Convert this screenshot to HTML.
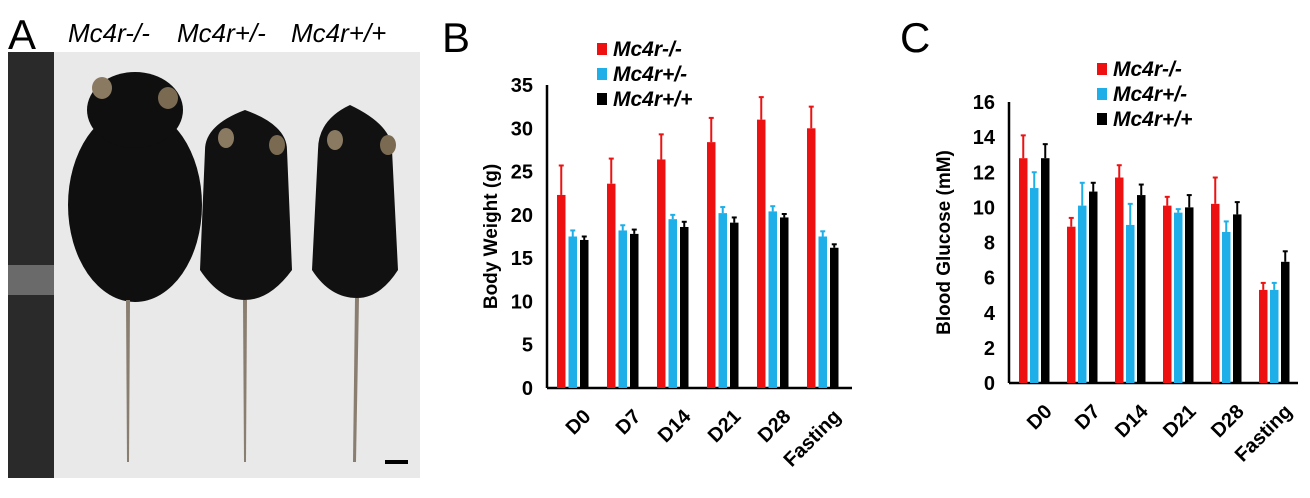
<!DOCTYPE html>
<html><head><meta charset="utf-8"><style>
body{margin:0;background:#fff;font-family:"Liberation Sans",Arial,sans-serif}
svg{display:block}
</style></head><body>
<svg width="1310" height="498" viewBox="0 0 1310 498">
<g>
<text x="8" y="49" font-size="42">A</text>
<text x="68" y="42" font-size="26" font-style="italic">Mc4r-/-</text>
<text x="177" y="42" font-size="26" font-style="italic">Mc4r+/-</text>
<text x="291" y="42" font-size="26" font-style="italic">Mc4r+/+</text>
<rect x="8" y="52" width="412" height="426" fill="#e9e9e9"/>
<rect x="8" y="52" width="46" height="426" fill="#2a2a2a"/>
<rect x="8" y="265" width="46" height="30" fill="#6a6a6a"/>
<g>
<ellipse cx="135" cy="205" rx="67" ry="97" fill="#0f0f0f"/>
<ellipse cx="135" cy="110" rx="48" ry="38" fill="#0f0f0f"/>
<ellipse cx="102" cy="88" rx="10" ry="11" fill="#8a7a62"/>
<ellipse cx="168" cy="98" rx="10" ry="11" fill="#7a6a52"/>
<path d="M126 300 L130 300 L129 462 L127 462 Z" fill="#8a7e70"/>
</g>
<g>
<path d="M205 150 Q205 125 245 110 Q287 125 287 150 L292 270 Q270 300 245 300 Q220 300 200 270 Z" fill="#111"/>
<ellipse cx="226" cy="138" rx="8" ry="10" fill="#8a7a62"/>
<ellipse cx="277" cy="145" rx="8" ry="10" fill="#7a6a52"/>
<path d="M243 300 L247 300 L246 462 L244 462 Z" fill="#8a7e70"/>
</g>
<g>
<path d="M318 150 Q318 120 350 105 Q392 125 392 150 L398 270 Q380 298 357 298 Q330 298 312 270 Z" fill="#111"/>
<ellipse cx="335" cy="140" rx="8" ry="10" fill="#8a7a62"/>
<ellipse cx="388" cy="145" rx="8" ry="10" fill="#7a6a52"/>
<path d="M355 298 L359 298 L356 462 L353 462 Z" fill="#8a7e70"/>
</g>
<rect x="385" y="460" width="23" height="4" fill="#000"/>
</g>
<g id="chartB">
<text x="442" y="52" font-size="42">B</text>
</g>
<g id="chartC">
<text x="900" y="52" font-size="42">C</text>
</g>
</svg>
<script>
const categories = ["D0","D7","D14","D21","D28","Fasting"];
const seriesNames = ["Mc4r-/-","Mc4r+/-","Mc4r+/+"];
const bwKO = [22.3,23.6,26.4,28.4,31.0,30.0];
const bwKOErr = [3.4,2.9,2.9,2.8,2.6,2.5];
const bwHet = [17.5,18.2,19.5,20.2,20.4,17.5];
const bwHetErr = [0.7,0.6,0.5,0.7,0.6,0.6];
const bwWT = [17.1,17.8,18.6,19.1,19.7,16.2];
const bwWTErr = [0.4,0.5,0.6,0.6,0.4,0.4];
const bwTicks = [0,5,10,15,20,25,30,35];
const bgKO = [12.8,8.9,11.7,10.1,10.2,5.3];
const bgKOErr = [1.3,0.5,0.7,0.5,1.5,0.4];
const bgHet = [11.1,10.1,9.0,9.7,8.6,5.3];
const bgHetErr = [0.9,1.3,1.2,0.2,0.6,0.4];
const bgWT = [12.8,10.9,10.7,10.0,9.6,6.9];
const bgWTErr = [0.8,0.5,0.6,0.7,0.7,0.6];
const bgTicks = [0,2,4,6,8,10,12,14,16];
const colors = ["#ee1111","#1eaee8","#000000"];
const NS="http://www.w3.org/2000/svg";
function mk(tag,attrs,parent){const e=document.createElementNS(NS,tag);for(const k in attrs)e.setAttribute(k,attrs[k]);parent.appendChild(e);return e;}
function draw(g,cfg){
  const y=v=>cfg.y0-(v/cfg.max)*(cfg.y0-cfg.yTop);
  const ax=mk('line',{x1:cfg.x0,y1:cfg.yTop,x2:cfg.x0,y2:cfg.y0,stroke:'#000','stroke-width':2.5},g);
  
  
  const bx=mk('line',{x1:cfg.x0,y1:cfg.y0,x2:cfg.x1,y2:cfg.y0,stroke:'#000','stroke-width':2.5},g);
  
  
  cfg.ticks.forEach(t=>{
    const tx=mk('text',{x:cfg.x0-14,y:y(t)+7,'font-size':20,'font-weight':'bold','text-anchor':'end'},g);
    tx.textContent=t;
    
    
  });
  const yt=mk('text',{transform:`translate(${cfg.titleX},${(cfg.yTop+cfg.y0)/2}) rotate(-90)`,'font-size':19,'font-weight':'bold','text-anchor':'middle'},g);
  yt.textContent=cfg.title;
  
  
  const series=[[cfg.a,cfg.ae],[cfg.b,cfg.be],[cfg.c,cfg.ce]];
  categories.forEach((c,i)=>{
    const gx=cfg.gStart+i*cfg.gStep;
    series.forEach((s,j)=>{
      const bxl=gx+j*cfg.bStep, top=y(s[0][i]), et=y(s[0][i]+s[1][i]);
      const r=mk('rect',{x:bxl,y:top,width:cfg.bw,height:cfg.y0-top,fill:colors[j]},g);
      
      
      const e=mk('line',{x1:bxl+cfg.bw/2,y1:top,x2:bxl+cfg.bw/2,y2:et,stroke:colors[j],'stroke-width':2},g);
      
      
      const ec=mk('line',{x1:bxl+cfg.bw/2-2.5,y1:et,x2:bxl+cfg.bw/2+2.5,y2:et,stroke:colors[j],'stroke-width':2},g);
      
      
    });
    const cx=gx+cfg.bStep*1.5, cy=cfg.y0+20;
    const lt=mk('text',{transform:`translate(${cx+8},${cy}) rotate(-45)`,'font-size':20,'font-weight':'bold','text-anchor':'end','dominant-baseline':'hanging'},g);
    lt.textContent=c;
    
    
  });
  seriesNames.forEach((n,j)=>{
    const ly=cfg.legY+j*25;
    const sw=mk('rect',{x:cfg.legX,y:ly-13,width:10,height:12,fill:colors[j]},g);
    
    
    const lt=mk('text',{x:cfg.legX+16,y:ly,'font-size':21,'font-weight':'bold','font-style':'italic'},g);
    lt.textContent=n;
    
    
  });
}
draw(document.getElementById('chartB'),{x0:547,x1:852,y0:388,yTop:85,max:35,ticks:bwTicks,title:'Body Weight (g)',titleX:497,
  a:bwKO,ae:bwKOErr,b:bwHet,be:bwHetErr,c:bwWT,ce:bwWTErr,gStart:557,gStep:50,bStep:11.5,bw:8.5,legX:597,legY:56});
draw(document.getElementById('chartC'),{x0:1009,x1:1298,y0:383,yTop:102,max:16,ticks:bgTicks,title:'Blood Glucose (mM)',titleX:950,
  a:bgKO,ae:bgKOErr,b:bgHet,be:bgHetErr,c:bgWT,ce:bgWTErr,gStart:1019,gStep:48,bStep:11,bw:8.5,legX:1097,legY:76});
</script>
</body></html>
